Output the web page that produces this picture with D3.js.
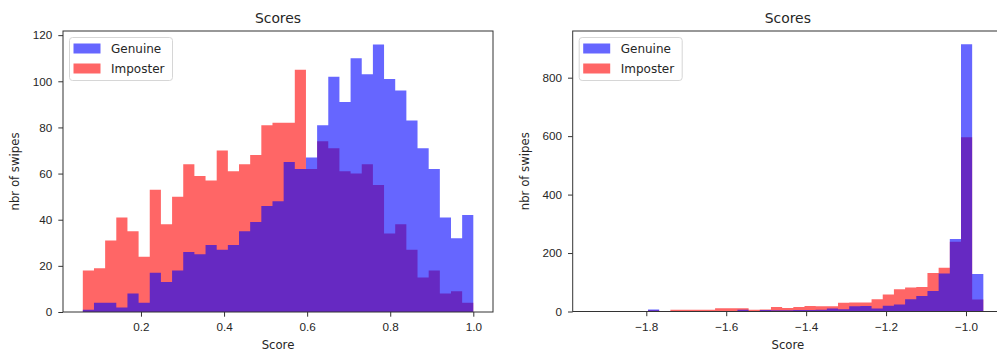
<!DOCTYPE html>
<html>
<head>
<meta charset="utf-8">
<script src="https://cdn.jsdelivr.net/npm/d3@7"></script>
<style>
    body { margin: 0; background: #fff; }
    svg { display: block; font-family: "DejaVu Sans", sans-serif; }
    .axis path, .axis line { stroke: #333; }
    .axis text { fill: #262626; font-size: 11.7px; }
</style>
</head>
<body>
<div id="chart"></div>
<script>
// histogram counts, 35 bins each
var leftBins = { lo: 0.06, hi: 1.0, n: 35 };
var leftGenuine = [1, 4, 4, 2, 8, 4, 17, 13, 18, 26, 25, 29, 27, 29, 35, 39, 46, 48, 65, 62,
    67, 81, 102, 91, 110, 103, 116, 101, 96, 83, 71, 62, 41, 32, 42];
var leftImposter = [18, 19, 31, 41, 35, 24, 53, 38, 50, 64, 59, 57, 70, 61, 64, 68, 81, 82, 82, 105,
    62, 74, 71, 61, 60, 64, 55, 34, 38, 27, 15, 18, 8, 9, 4];

var rightBins = { lo: -1.9356, hi: -0.9566, n: 35 };
var rightGenuine = [0, 0, 0, 0, 0, 7, 0, 0, 0, 0, 0, 1, 1, 6, 1, 5, 4, 4, 5, 5,
    6, 10, 8, 18, 19, 10, 20, 24, 42, 53, 70, 130, 248, 914, 128];
var rightImposter = [1, 0, 0, 0, 0, 4, 0, 6, 6, 6, 6, 11, 11, 11, 6, 7, 15, 12, 15, 19,
    18, 18, 30, 31, 31, 42, 58, 76, 82, 84, 132, 150, 239, 596, 41];

var leftXTicks = [0.2, 0.4, 0.6, 0.8, 1.0];
var leftYTicks = [0, 20, 40, 60, 80, 100, 120];
var rightXTicks = [-1.8, -1.6, -1.4, -1.2, -1.0];
var rightYTicks = [0, 200, 400, 600, 800];

var seriesNames = ['Genuine', 'Imposter'];
var colors = { Genuine: '#0000ff', Imposter: '#ff0000' };

var svg = d3.select('#chart').append('svg')
    .attr('width', 997)
    .attr('height', 352);

function drawPanel(opt) {
    var x = d3.scaleLinear().domain(opt.xDomain).range([opt.left, opt.right]);
    var y = d3.scaleLinear().domain(opt.yDomain).range([opt.bottom, opt.top]);
    var g = svg.append('g');

    var clipId = 'clip' + Math.round(opt.left);
    g.append('clipPath').attr('id', clipId)
        .append('rect')
        .attr('x', opt.left).attr('y', opt.top)
        .attr('width', opt.right - opt.left).attr('height', opt.bottom - opt.top);

    var w = (opt.bins.hi - opt.bins.lo) / opt.bins.n;
    function toSteps(counts) {
        var pts = counts.map(function(c, i) {
            return { x: opt.bins.lo + i * w, v: c };
        });
        pts.push({ x: opt.bins.hi, v: counts[counts.length - 1] });
        return pts;
    }
    var area = d3.area()
        .curve(d3.curveStepAfter)
        .x(d => x(d.x))
        .y0(y(0))
        .y1(d => y(d.v));

    // imposter first, genuine drawn over it (gives the violet overlap)
    var plots = g.append('g').attr('clip-path', 'url(#' + clipId + ')');
    plots.append('path')
        .attr('d', area(toSteps(opt.imposter)))
        .attr('fill', colors.Imposter)
        .attr('fill-opacity', 0.6);
    plots.append('path')
        .attr('d', area(toSteps(opt.genuine)))
        .attr('fill', colors.Genuine)
        .attr('fill-opacity', 0.6);

    /* axes */
    var xAxis = d3.axisBottom(x).tickValues(opt.xTicks).tickFormat(d3.format('.1f'))
        .tickSize(4.7).tickPadding(6);
    var yAxis = d3.axisLeft(y).tickValues(opt.yTicks).tickFormat(d3.format('d'))
        .tickSize(4.7).tickPadding(6);

    g.append('g')
        .attr('class', 'x axis')
        .attr('transform', `translate(0, ${opt.bottom})`)
        .call(xAxis)
        .call(s => s.select('.domain').remove());
    g.append('g')
        .attr('class', 'y axis')
        .attr('transform', `translate(${opt.left}, 0)`)
        .call(yAxis)
        .call(s => s.select('.domain').remove());

    // frame (spines)
    g.append('rect')
        .attr('x', opt.left).attr('y', opt.top)
        .attr('width', opt.right - opt.left).attr('height', opt.bottom - opt.top)
        .attr('fill', 'none')
        .attr('stroke', '#333')
        .attr('stroke-width', 1);

    // title and labels
    var cx = (opt.left + opt.right) / 2;
    g.append('text')
        .attr('x', cx).attr('y', 23)
        .attr('text-anchor', 'middle')
        .style('font-size', '13.9px')
        .attr('fill', '#262626')
        .text('Scores');
    g.append('text')
        .attr('x', cx).attr('y', 349)
        .attr('text-anchor', 'middle')
        .style('font-size', '11.7px')
        .attr('fill', '#262626')
        .text('Score');
    g.append('text')
        .attr('transform', `translate(${opt.ylabelX}, ${(opt.top + opt.bottom) / 2}) rotate(-90)`)
        .attr('text-anchor', 'middle')
        .style('font-size', '11.7px')
        .attr('fill', '#262626')
        .text('nbr of swipes');

    // legend
    var lx = opt.left + 6.5, ly = opt.top + 6.5;
    var legend = g.append('g').attr('transform', `translate(${lx}, ${ly})`);
    legend.append('rect')
        .attr('width', 103).attr('height', 43)
        .attr('rx', 3)
        .attr('fill', '#fff').attr('fill-opacity', 0.8)
        .attr('stroke', '#d6d6d6');
    var items = legend.selectAll('.item')
        .data(seriesNames)
        .enter()
        .append('g')
        .attr('class', 'item')
        .attr('transform', (d, i) => `translate(0, ${i * 20})`);
    items.append('rect')
        .attr('x', 4).attr('y', 6)
        .attr('width', 27).attr('height', 10)
        .attr('fill', d => colors[d])
        .attr('fill-opacity', 0.6);
    items.append('text')
        .attr('x', 41.5).attr('y', 15.5)
        .style('font-size', '12px')
        .attr('fill', '#262626')
        .text(d => d);
}

drawPanel({
    left: 63, right: 493, top: 31, bottom: 312,
    xDomain: [0.0123, 1.0474], yDomain: [0, 121.8],
    bins: leftBins, genuine: leftGenuine, imposter: leftImposter,
    xTicks: leftXTicks, yTicks: leftYTicks, ylabelX: 19
});
drawPanel({
    left: 572.7, right: 1003, top: 31, bottom: 311.5,
    xDomain: [-1.9842, -0.9074], yDomain: [0, 959.7],
    bins: rightBins, genuine: rightGenuine, imposter: rightImposter,
    xTicks: rightXTicks, yTicks: rightYTicks, ylabelX: 529
});
</script>
</body>
</html>
